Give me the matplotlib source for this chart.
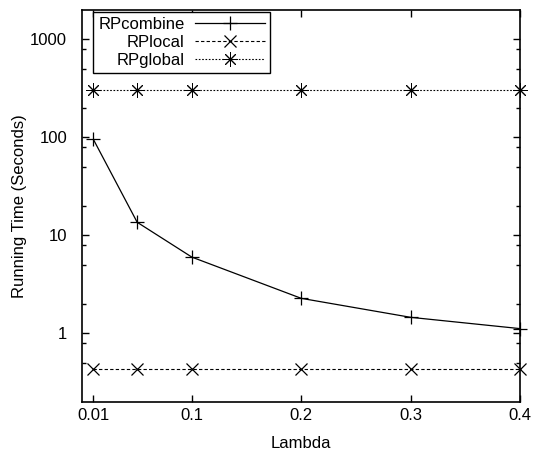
import numpy as np
import matplotlib.pyplot as plt
from matplotlib.ticker import FixedLocator, NullFormatter

plt.rcParams['font.family'] = ['Liberation Sans', 'DejaVu Sans']
plt.rcParams['font.size'] = 12

# lambda values and running times (seconds)
lam = [0.01, 0.05, 0.1, 0.2, 0.3, 0.4]
rp_combine = [95, 13.6, 6.0, 2.28, 1.46, 1.12]
rp_local = [0.43, 0.43, 0.43, 0.43, 0.43, 0.43]
rp_global = [305, 305, 305, 305, 305, 305]
xticks = [0.01, 0.1, 0.2, 0.3, 0.4]
xtick_labels = ['0.01', '0.1', '0.2', '0.3', '0.4']
yticks = [1, 10, 100, 1000]
ytick_labels = ['1', '10', '100', '1000']

fig = plt.figure(figsize=(5.37, 4.61), dpi=100)
ax = fig.add_axes([0.1536, 0.128, 0.8147, 0.851])

ax.plot(lam, rp_combine, color='black', lw=0.9, marker='+', ms=10, mew=0.9,
        label='RPcombine', clip_on=False)
ax.plot(lam, rp_local, color='black', lw=0.8, ls=(0, (3, 2)), marker='x', ms=9,
        mew=0.9, label='RPlocal', clip_on=False)
ax.plot(lam, rp_global, color='black', lw=0.8, ls=(0, (1.5, 1.5)),
        marker=(8, 2, 0), ms=10.5, mew=0.7, label='RPglobal', clip_on=False)

ax.set_yscale('log')
ax.set_xlim(0, 0.4)
ax.set_ylim(0.2, 2000)
ax.set_xticks(xticks)
ax.set_xticklabels(xtick_labels)
ax.set_yticks(yticks)
ax.set_yticklabels(ytick_labels)
ax.yaxis.set_minor_locator(FixedLocator([0.5, 0.8, 2, 5, 8, 20, 50, 80, 200, 500, 800]))
ax.yaxis.set_minor_formatter(NullFormatter())

ax.tick_params(which='both', direction='in', top=True, right=True, width=1)
ax.tick_params(which='major', length=5)
ax.tick_params(axis='x', which='major', pad=4)
ax.tick_params(axis='y', which='major', pad=11)
ax.tick_params(which='minor', length=3)
for s in ax.spines.values():
    s.set_linewidth(1.2)

ax.set_xlabel('Lambda', labelpad=10)
ax.set_ylabel('Running Time (Seconds)', labelpad=2)

leg = ax.legend(loc='upper left', bbox_to_anchor=(0.025, 0.995), markerfirst=False,
                fancybox=False, edgecolor='black', framealpha=1, borderpad=0.3,
                handlelength=4.2, labelspacing=0.2, handletextpad=0.6,
                borderaxespad=0)
leg.get_frame().set_linewidth(1.0)

fig.savefig('out.png', dpi=100)
